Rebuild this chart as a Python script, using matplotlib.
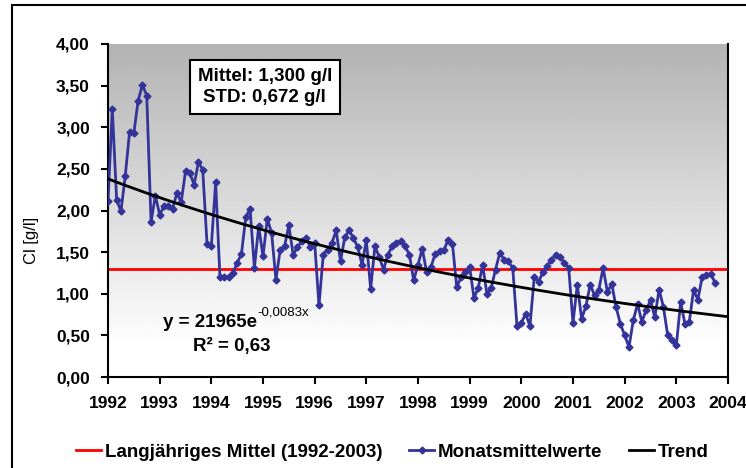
import numpy as np
import matplotlib
matplotlib.use("Agg")
import matplotlib.pyplot as plt
from matplotlib.patches import Rectangle
from matplotlib.lines import Line2D

plt.rcParams['font.family'] = ['Liberation Sans', 'DejaVu Sans']

# Monatsmittelwerte Cl [g/l], Jan 1992 - Okt 2003
cl_1992 = [2.11, 3.22, 2.13, 1.99, 2.41, 2.94, 2.93, 3.32, 3.51, 3.38, 1.86, 2.18]
cl_1993 = [1.95, 2.05, 2.06, 2.02, 2.21, 2.10, 2.47, 2.45, 2.31, 2.58, 2.49, 1.60]
cl_1994 = [1.57, 2.34, 1.20, 1.20, 1.20, 1.25, 1.37, 1.48, 1.92, 2.02, 1.31, 1.81]
cl_1995 = [1.45, 1.90, 1.73, 1.17, 1.53, 1.57, 1.82, 1.47, 1.56, 1.63, 1.67, 1.56]
cl_1996 = [1.61, 0.86, 1.47, 1.53, 1.61, 1.76, 1.39, 1.68, 1.76, 1.67, 1.56, 1.35]
cl_1997 = [1.64, 1.06, 1.57, 1.44, 1.29, 1.47, 1.57, 1.61, 1.63, 1.57, 1.47, 1.16]
cl_1998 = [1.35, 1.54, 1.26, 1.32, 1.48, 1.51, 1.52, 1.65, 1.60, 1.08, 1.20, 1.26]
cl_1999 = [1.32, 0.95, 1.07, 1.35, 1.00, 1.07, 1.29, 1.49, 1.41, 1.39, 1.31, 0.61]
cl_2000 = [0.65, 0.76, 0.61, 1.20, 1.14, 1.26, 1.33, 1.41, 1.47, 1.44, 1.37, 1.31]
cl_2001 = [0.65, 1.11, 0.70, 0.85, 1.11, 0.98, 1.05, 1.31, 1.02, 1.12, 0.84, 0.64]
cl_2002 = [0.50, 0.36, 0.68, 0.88, 0.66, 0.81, 0.92, 0.72, 1.05, 0.84, 0.50, 0.44]
cl_2003 = [0.38, 0.90, 0.64, 0.66, 1.04, 0.93, 1.20, 1.23, 1.24, 1.13]

years = list(range(1992, 2005))
mittel = 1.300   # langjähriges Mittel
std = 0.672
r2 = 0.63
eq_a = 21965
eq_b = -0.0083

cl = np.array(cl_1992 + cl_1993 + cl_1994 + cl_1995 + cl_1996 + cl_1997 +
              cl_1998 + cl_1999 + cl_2000 + cl_2001 + cl_2002 + cl_2003)
months = np.arange(len(cl))
t = 1992 + months / 12.0

# exponentieller Trend (Fit auf log-Werte)
slope, icpt = np.polyfit(months, np.log(cl), 1)
m_tr = np.linspace(0, 144, 200)
t_tr = 1992 + m_tr / 12.0
trend = np.exp(icpt + slope * m_tr)

fig = plt.figure(figsize=(7.46, 4.68), dpi=100)
ax = fig.add_axes([108/746, 1 - 377/468, 620/746, 333/468])

# grauer Verlauf im Hintergrund
yy = np.linspace(0, 4, 400)
shade = 1 - 0.30 * np.clip((yy - 0.35) / 3.65, 0, 1)
grad = np.repeat(shade[:, None], 2, axis=1)
ax.imshow(grad, cmap='gray', vmin=0, vmax=1, origin='lower', aspect='auto',
          extent=[1992, 2004, 0, 4], zorder=0)

blue = '#333399'
ax.axhline(mittel, color='red', lw=2, zorder=2)
ax.plot(t, cl, color=blue, lw=2, marker='D', ms=3.5, zorder=3)
ax.plot(t_tr, trend, color='black', lw=2, zorder=4)

ax.set_xlim(1992, 2004)
ax.set_ylim(0, 4)
ax.set_xticks(years)
ax.set_xticklabels([str(y) for y in years])
ax.set_yticks(np.arange(0, 4.01, 0.5))
ax.set_yticklabels([f"{v:.2f}".replace('.', ',') for v in np.arange(0, 4.01, 0.5)])
for lbl in ax.get_xticklabels() + ax.get_yticklabels():
    lbl.set_fontweight('bold')
ax.tick_params(axis='y', labelsize=12.5, direction='out', length=5, width=1.5, pad=8)
ax.tick_params(axis='x', labelsize=12.5, direction='out', length=5, width=1.5, pad=9)
ax.spines['top'].set_visible(False)
for s in ['left', 'right', 'bottom']:
    ax.spines[s].set_linewidth(1.5)
ax.set_ylabel('Cl [g/l]', fontsize=12)
ax.yaxis.set_label_coords(-0.112, 0.41)

ax.text(0.253, 0.871, f"Mittel: {mittel:.3f} g/l\nSTD: {std:.3f} g/l".replace('.', ','),
        transform=ax.transAxes, ha='center', va='center', fontsize=13.5,
        fontweight='bold', linespacing=1.35,
        bbox=dict(boxstyle='square,pad=0.4', fc='white', ec='black', lw=1.5))

# Trendgleichung, Exponent hochgestellt
ax.text(1993.06, 0.65, f"y = {eq_a}e", fontsize=13.5, fontweight='bold', va='center')
ax.text(1994.90, 0.77, f"{eq_b}x".replace('.', ','), fontsize=9.5, va='center')
ax.text(1993.65, 0.37, f"R² = {r2:.2f}".replace('.', ','),
        fontsize=13.5, fontweight='bold', va='center')

handles = [Line2D([], [], color='red', lw=2),
           Line2D([], [], color=blue, lw=2, marker='D', ms=3.5),
           Line2D([], [], color='black', lw=2)]
labels = ['Langjähriges Mittel (1992-2003)', 'Monatsmittelwerte', 'Trend']
fig.legend(handles, labels, loc='center', bbox_to_anchor=(0.526, 1 - 452/468),
           ncol=3, frameon=False, handlelength=1.35,
           handletextpad=0.2, columnspacing=1.4,
           prop={'weight': 'bold', 'size': 13.5})

# Rahmen um das Diagramm (rechts und unten abgeschnitten)
fig.patches.append(Rectangle((12/746, -0.02), 1.0, 1 - 5/468 + 0.02,
                             transform=fig.transFigure, fill=False,
                             ec='black', lw=1.5))

fig.savefig('out.png', dpi=100)
